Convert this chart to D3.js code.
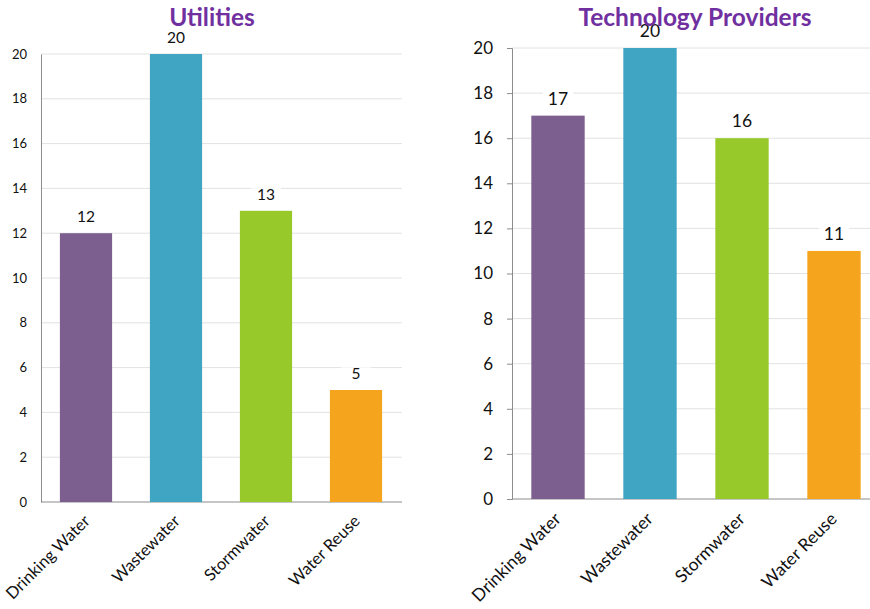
<!DOCTYPE html>
<html><head><meta charset="utf-8">
<script src="https://cdn.jsdelivr.net/npm/d3@7"></script>
<style>body{margin:0;background:#fff}svg{display:block}text{font-family:Lato,"Open Sans",sans-serif}</style>
</head><body>
<svg id="c" width="870" height="609"></svg>
<script>
const categories = ["Drinking Water","Wastewater","Stormwater","Water Reuse"];
const utilitiesValues = [12,20,13,5];
const providersValues = [17,20,16,11];
const yTicks = [0,2,4,6,8,10,12,14,16,18,20];
const titles = ["Utilities","Technology Providers"];
const colors = ["#7D5F8F","#40A4C3","#97C92B","#F5A51D"];

const svg = d3.select("#c");

function panel(cfg){
  const g = svg.append("g");
  const x = d3.scaleBand().domain(categories).range([cfg.x0,cfg.x1]).paddingInner(cfg.pad).paddingOuter(cfg.pad/2);
  const y = d3.scaleLinear().domain([0,20]).range([cfg.y0,cfg.y1]);
  g.append("g").selectAll("line").data(yTicks.filter(d=>d>0)).join("line")
    .attr("x1",cfg.x0).attr("x2",cfg.gridEnd).attr("y1",d=>y(d)).attr("y2",d=>y(d))
    .attr("stroke","#E2E2E2").attr("stroke-width",1);
  const ya = d3.axisLeft(y).tickValues(yTicks).tickSize(cfg.tick).tickPadding(cfg.tickPad).tickFormat(d3.format("d"));
  const yg = g.append("g").attr("transform",`translate(${cfg.x0},0)`).call(ya);
  yg.select(".domain").attr("stroke","#8C8C8C");
  yg.selectAll(".tick line").attr("stroke","#8C8C8C");
  yg.selectAll("text").attr("font-size",cfg.tickFont).attr("fill","#111").style("font-family","Lato,'Open Sans',sans-serif");
  g.append("line").attr("x1",cfg.x0).attr("x2",cfg.gridEnd).attr("y1",y(0)).attr("y2",y(0)).attr("stroke","#8C8C8C");
  g.append("g").selectAll("rect").data(cfg.values).join("rect")
    .attr("x",(d,i)=>x(categories[i])).attr("width",x.bandwidth())
    .attr("y",d=>y(d)).attr("height",d=>y(0)-y(d)).attr("fill",(d,i)=>colors[i]);
  const lg = g.append("g").selectAll("g").data(cfg.values).join("g")
    .attr("transform",(d,i)=>`translate(${x(categories[i])+x.bandwidth()/2},${y(d)-11})`);
  lg.append("rect").attr("x",-15).attr("y",-cfg.labFont*0.75).attr("width",30).attr("height",cfg.labFont*0.9).attr("fill","#fff");
  lg.append("text").attr("text-anchor","middle").attr("font-size",cfg.labFont).attr("fill","#111").text(d=>d);
  g.append("g").selectAll("text").data(categories).join("text")
    .attr("transform",d=>`translate(${x(d)+x.bandwidth()/2+cfg.catDx},${y(0)+cfg.catDy}) rotate(-45)`)
    .attr("text-anchor","end").attr("font-size",cfg.catFont).attr("fill","#111").text(d=>d);
  g.append("text").attr("x",cfg.tx).attr("y",26).attr("text-anchor","middle")
    .attr("font-size",24.5).attr("font-weight","bold").attr("fill","#7030A0").text(cfg.title);
}

panel({x0:41,x1:401,gridEnd:402,y0:502,y1:54,pad:0.42,tick:0,tickPad:14,tickFont:13,labFont:15.5,catFont:16.5,catDx:5,catDy:20,values:utilitiesValues,title:titles[0],tx:212});
panel({x0:512,x1:880,gridEnd:870,y0:499,y1:48,pad:0.42,tick:5,tickPad:14,tickFont:17,labFont:17.5,catFont:17.5,catDx:4,catDy:21,values:providersValues,title:titles[1],tx:695});
</script>
</body></html>
